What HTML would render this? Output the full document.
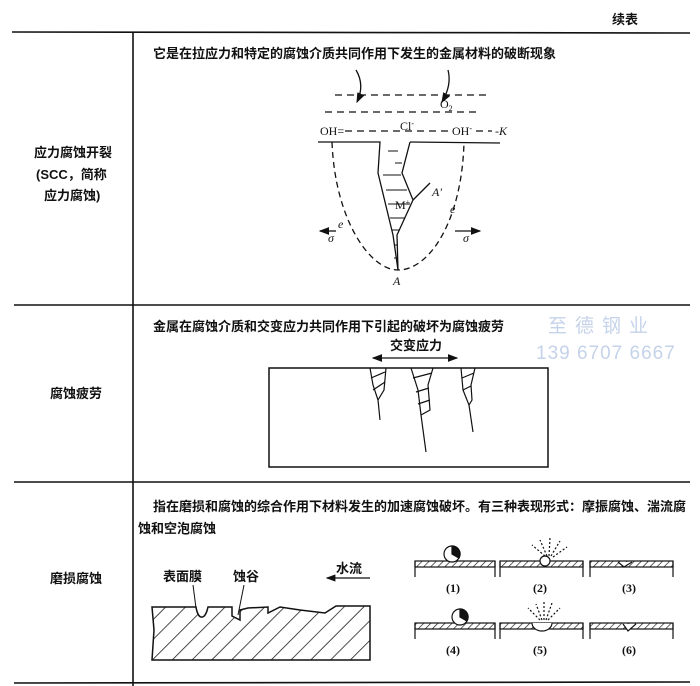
<!DOCTYPE html>
<html><head><meta charset="utf-8"><style>
body{margin:0;background:#fff;}
svg{display:block;font-family:"Liberation Serif","Noto Serif CJK SC",serif;}
.c{font-family:"Liberation Sans","Noto Sans CJK SC",sans-serif;font-weight:bold;font-size:13px;fill:#111;}
</style></head><body>
<svg width="700" height="686" viewBox="0 0 700 686" xmlns="http://www.w3.org/2000/svg">
<defs>
<pattern id="h" width="14" height="14" patternUnits="userSpaceOnUse" patternTransform="rotate(45)">
<line x1="0" y1="0" x2="0" y2="14" stroke="#111" stroke-width="1.5"/></pattern>
<pattern id="h2" width="5" height="5" patternUnits="userSpaceOnUse" patternTransform="rotate(45)">
<line x1="0" y1="0" x2="0" y2="5" stroke="#111" stroke-width="1.3"/></pattern>
<marker id="ar" markerWidth="8" markerHeight="6" refX="7" refY="3" orient="auto"><path d="M0,0 L8,3 L0,6 z" fill="#111"/></marker>
<marker id="as" markerWidth="8" markerHeight="6" refX="1" refY="3" orient="auto"><path d="M8,0 L0,3 L8,6 z" fill="#111"/></marker>
</defs>
<text x="612" y="24" class="c" font-size="14">续表</text>
<g stroke="#111" stroke-width="1.6" fill="none">
<line x1="12" y1="32" x2="690" y2="33"/>
<line x1="133" y1="32" x2="133" y2="686"/>
<line x1="14" y1="305" x2="690" y2="305"/>
<line x1="14" y1="482" x2="690" y2="482"/>
<line x1="14" y1="683" x2="690" y2="682"/>
</g>
<text x="34" y="157" class="c">应力腐蚀开裂</text>
<text x="36" y="179" class="c">(SCC，简称</text>
<text x="44" y="200" class="c">应力腐蚀)</text>
<text x="50" y="398" class="c">腐蚀疲劳</text>
<text x="50" y="583" class="c">磨损腐蚀</text>

<text x="153" y="58" class="c">它是在拉应力和特定的腐蚀介质共同作用下发生的金属材料的破断现象</text>
<text x="153" y="331" class="c">金属在腐蚀介质和交变应力共同作用下引起的破坏为腐蚀疲劳</text>
<text x="153" y="511" class="c">指在磨损和腐蚀的综合作用下材料发生的加速腐蚀破坏。有三种表现形式：摩振腐蚀、湍流腐</text>
<text x="138" y="533" class="c">蚀和空泡腐蚀</text>

<text x="548" y="332" font-family="Liberation Sans,Noto Sans CJK SC,sans-serif" font-size="19" fill="#c5d3ea" letter-spacing="8">至德钢业</text>
<text x="536" y="359" font-family="Liberation Sans,sans-serif" font-size="19" fill="#c5d3ea" letter-spacing="1">139 6707 6667</text>

<g stroke="#111" stroke-width="1.3" fill="none">
<line x1="335" y1="95" x2="490" y2="95" stroke-dasharray="7,5"/>
<line x1="325" y1="112" x2="480" y2="112" stroke-dasharray="7,5"/>
<line x1="345" y1="131" x2="448" y2="131" stroke-dasharray="7,5"/>
<line x1="476" y1="131" x2="492" y2="131" stroke-dasharray="7,5"/>
<path d="M356,70 Q365,85 357,102" marker-end="url(#ar)"/>
<path d="M448,70 Q452,85 442,102" marker-end="url(#ar)"/>
<polyline points="318,142 380,142 378,173 393,235 398,270"/>
<polyline points="410,142 500,143"/>
<polyline points="410,142 402,173 413,200 397,235 398,270"/>
<path d="M413,200 L430,183"/>
<g stroke-width="1"><line x1="383" y1="175" x2="401" y2="175"/><line x1="386" y1="190" x2="407" y2="190"/><line x1="388" y1="204" x2="410" y2="204"/><line x1="390" y1="218" x2="405" y2="218"/><line x1="392" y1="230" x2="400" y2="230"/><line x1="394" y1="245" x2="398" y2="245"/><line x1="394" y1="258" x2="398" y2="258"/>
<line x1="388" y1="151" x2="398" y2="151"/><line x1="395" y1="163" x2="402" y2="163"/></g>
<path d="M332,142 C335,220 370,270 398,270 C430,270 462,220 464,142" stroke-dasharray="6,4"/>
<line x1="336" y1="231" x2="320" y2="231" marker-end="url(#ar)"/>
<line x1="455" y1="231" x2="480" y2="231" marker-end="url(#ar)"/>
</g>
<g font-size="12" fill="#111">
<text x="440" y="108">O<tspan font-size="8" dy="3">2</tspan></text>
<text x="320" y="135">OH=</text>
<text x="400" y="130">Cl<tspan font-size="8" dy="-4">-</tspan></text>
<text x="452" y="135">OH<tspan font-size="8" dy="-4">-</tspan></text>
<text x="495" y="135" font-style="italic">-K</text>
<text x="432" y="196" font-style="italic">A'</text>
<text x="395" y="209">M<tspan font-size="8" dy="-4">+</tspan></text>
<text x="338" y="228" font-style="italic">e</text>
<text x="450" y="213" font-style="italic">e</text>
<text x="328" y="242" font-style="italic">σ</text>
<text x="463" y="242" font-style="italic">σ</text>
<text x="393" y="285" font-style="italic">A</text>
</g>

<text x="390" y="350" class="c" font-size="12">交变应力</text>
<line x1="373" y1="358" x2="457" y2="358" stroke="#111" stroke-width="1.3" marker-end="url(#ar)" marker-start="url(#as)"/>
<rect x="269" y="368" width="279" height="99" fill="none" stroke="#111" stroke-width="1.5"/>
<g stroke="#111" stroke-width="1.2" fill="none">
<polyline points="370,368 373,385 378,400 380,420"/><polyline points="386,368 384,390 378,400"/>
<line x1="371" y1="378" x2="385" y2="372"/><line x1="373" y1="390" x2="385" y2="382"/>
<polyline points="411,368 418,390 421,415 426,452"/><polyline points="433,368 428,385 430,410 421,415"/>
<line x1="413" y1="378" x2="432" y2="373"/><line x1="416" y1="392" x2="429" y2="388"/><line x1="418" y1="404" x2="430" y2="400"/>
<polyline points="461,368 463,390 469,405 473,432"/><polyline points="475,368 471,385 472,400 469,405"/>
<line x1="462" y1="378" x2="474" y2="373"/><line x1="463" y1="390" x2="471" y2="386"/>
</g>

<text x="163" y="581" class="c" font-size="12">表面膜</text>
<text x="233" y="581" class="c" font-size="12">蚀谷</text>
<text x="336" y="573" class="c" font-size="12">水流</text>
<line x1="370" y1="578" x2="327" y2="578" stroke="#111" stroke-width="1.2" marker-end="url(#ar)"/>
<line x1="193" y1="585" x2="196" y2="608" stroke="#111" stroke-width="1"/>
<line x1="244" y1="585" x2="238" y2="615" stroke="#111" stroke-width="1"/>
<path d="M152,607 L196,607 C198,620 205,621 208,607 L232,607 L232,616 L240,620 L240,610 L248,608 L268,607 L268,613 L280,607 L300,610 L325,613 L336,606 L370,606 L370,660 L152,660 L154,630 Z" fill="url(#h)" stroke="#111" stroke-width="1.5"/>

<g stroke="#111" stroke-width="1.2">
<rect x="415" y="561" width="80" height="6" fill="url(#h2)"/>
<line x1="415" y1="561" x2="415" y2="577"/><line x1="495" y1="561" x2="495" y2="577"/>
<circle cx="452" cy="554" r="8" fill="#fff"/>
<path d="M452,546 A8,8 0 0 1 459,558 L452,554 Z" fill="#111"/>
<rect x="500" y="561" width="83" height="6" fill="url(#h2)"/>
<line x1="500" y1="561" x2="500" y2="577"/><line x1="583" y1="561" x2="583" y2="577"/>
<circle cx="545" cy="561" r="5" fill="#fff"/>
<rect x="590" y="561" width="83" height="6" fill="url(#h2)"/>
<line x1="590" y1="561" x2="590" y2="577"/><line x1="673" y1="561" x2="673" y2="577"/>
<path d="M618,562 L624,567 L632,562" fill="#fff"/>

<rect x="415" y="623" width="80" height="6" fill="url(#h2)"/>
<line x1="415" y1="623" x2="415" y2="639"/><line x1="495" y1="623" x2="495" y2="639"/>
<circle cx="460" cy="617" r="8" fill="#fff"/>
<path d="M460,609 A8,8 0 0 1 467,621 L460,617 Z" fill="#111"/>
<rect x="500" y="623" width="83" height="6" fill="url(#h2)"/>
<line x1="500" y1="623" x2="500" y2="639"/><line x1="583" y1="623" x2="583" y2="639"/>
<path d="M532,623 A10,8 0 0 0 552,623" fill="#fff"/>
<rect x="590" y="623" width="83" height="6" fill="url(#h2)"/>
<line x1="590" y1="623" x2="590" y2="639"/><line x1="673" y1="623" x2="673" y2="639"/>
<path d="M623,624 L628,631 L636,624" fill="#fff"/>
</g>
<g stroke="#111" stroke-width="1.2" stroke-dasharray="2,2">
<line x1="545" y1="556" x2="532" y2="545"/><line x1="547" y1="556" x2="540" y2="540"/><line x1="549" y1="556" x2="550" y2="538"/><line x1="551" y1="556" x2="560" y2="541"/><line x1="553" y1="557" x2="567" y2="547"/>
<line x1="540" y1="620" x2="528" y2="608"/><line x1="542" y1="620" x2="536" y2="604"/><line x1="544" y1="620" x2="544" y2="601"/><line x1="546" y1="620" x2="552" y2="603"/><line x1="548" y1="620" x2="560" y2="608"/>
</g>
<g font-family="Liberation Serif,serif" font-weight="bold" font-size="12" fill="#111">
<text x="446" y="592">(1)</text><text x="533" y="592">(2)</text><text x="622" y="592">(3)</text>
<text x="446" y="654">(4)</text><text x="533" y="654">(5)</text><text x="622" y="654">(6)</text>
</g>
</svg>
</body></html>
